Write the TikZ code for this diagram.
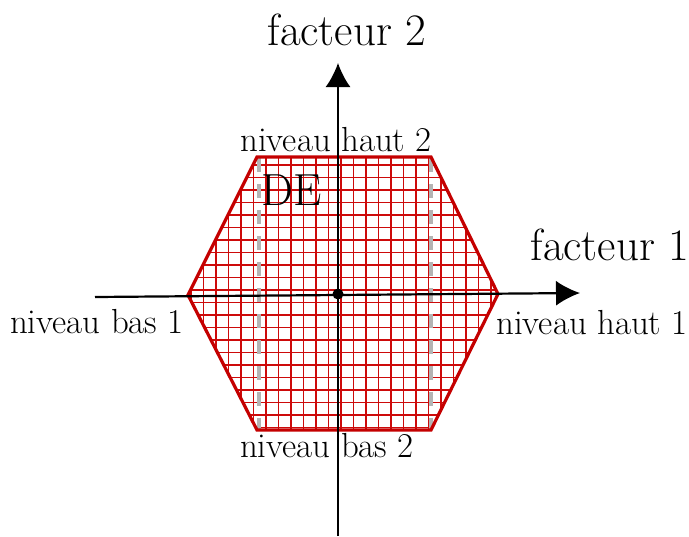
\documentclass[tikz,border=0pt]{standalone}
\usetikzlibrary{arrows.meta}
\definecolor{hexred}{RGB}{196,0,0}
\definecolor{gridred}{RGB}{205,10,10}
\definecolor{dashgrey}{RGB}{180,180,180}
\begin{document}
\begin{tikzpicture}[x=0.5pt,y=-0.5pt,
  axis/.style={line width=1.1pt,-{Latex[length=12pt,width=12.5pt]}},
  bigtxt/.style={inner sep=0pt,font=\fontsize{22.5}{26}\selectfont},
  smalltxt/.style={inner sep=0pt,font=\fontsize{17.4}{20}\selectfont},
  gridline/.style={gridred,line width=0.7pt},
  hexborder/.style={hexred,line width=1.6pt,line join=miter},
  dashline/.style={dashgrey,line width=1.6pt,dash pattern=on 7pt off 6pt}]
\useasboundingbox (0,0) rectangle (689,536);
% hexagon corners
\coordinate (L) at (188,295);
\coordinate (TL) at (257,157);
\coordinate (TR) at (431,157);
\coordinate (R) at (498,294);
\coordinate (BR) at (431,430);
\coordinate (BL) at (257,430);
% grid
\begin{scope}
  \clip (L) -- (TL) -- (TR) -- (R) -- (BR) -- (BL) -- cycle;
  \foreach \i in {-12,...,12} {
    \draw[gridline] (340.8+12.5*\i,150) -- (340.8+12.5*\i,440);
  }
  \foreach \j in {0,...,21} {
    \draw[gridline] (180,165+12.5*\j) -- (505,165+12.5*\j);
  }
\end{scope}
% dashed lines
\coordinate (DLt) at (259,158);
\coordinate (DLb) at (259,430);
\coordinate (DRt) at (431,158);
\coordinate (DRb) at (431,430);
\draw[dashline] (DLt) -- (DLb);
\draw[dashline] (DRt) -- (DRb);
% hexagon border
\draw[hexborder] (L) -- (TL) -- (TR) -- (R) -- (BR) -- (BL) -- cycle;
% axes
\coordinate (xs) at (95,297);
\coordinate (xe) at (580,293);
\coordinate (ys) at (338,536);
\coordinate (ye) at (338,63);
\draw[axis] (xs) -- (xe);
\draw[axis] (ys) -- (ye);
\fill (338,294) circle (5.5);
% labels
\node[bigtxt] (f2) at (347,30) {facteur 2};
\node[bigtxt] (f1) at (610,245) {facteur 1};
\node[bigtxt] (de) at (292,190) {DE};
\node[smalltxt] (nh2) at (336,140) {niveau haut 2};
\node[smalltxt] (nb1) at (97,322) {niveau bas 1};
\node[smalltxt] (nh1) at (592,323) {niveau haut 1};
\node[smalltxt] (nb2) at (327,446) {niveau bas 2};
\end{tikzpicture}
\end{document}
